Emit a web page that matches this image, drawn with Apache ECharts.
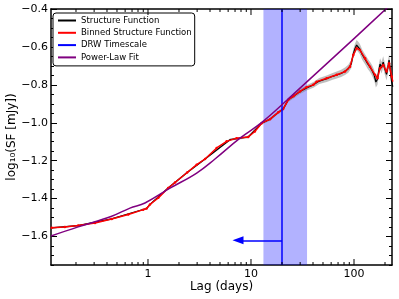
<!DOCTYPE html>
<html><head><meta charset="utf-8">
<script src="https://cdn.jsdelivr.net/npm/echarts@6/dist/echarts.min.js"></script>
<style>html,body{margin:0;padding:0;background:#fff}#c{width:399px;height:299px}</style>
</head><body><div id="c"></div>
<script>
// ---- data ----
var blackLag = [0.116,0.21,0.444,0.97,1.045,1.57,2.4,3.58,6.25,9.4,12.7,15.3,18.4,20.5,23,25.8,29.9,35,40.3,46,54.3,62,68,75,81.8,88,94,98.5,102,106,110,114,120,128,136,143,150,157,163,169,174,179,185,192,199,207,213,219,225,232,238];
var blackVal = [-1.554,-1.542,-1.507,-1.452,-1.431,-1.344,-1.262,-1.191,-1.089,-1.075,-1.002,-0.981,-0.945,-0.928,-0.879,-0.86,-0.835,-0.815,-0.80,-0.78,-0.768,-0.755,-0.748,-0.74,-0.728,-0.715,-0.69,-0.635,-0.61,-0.59,-0.6,-0.612,-0.64,-0.665,-0.69,-0.705,-0.725,-0.748,-0.785,-0.77,-0.725,-0.69,-0.71,-0.68,-0.715,-0.745,-0.71,-0.67,-0.72,-0.785,-0.81];
var bandHalf = [0.004,0.004,0.004,0.004,0.004,0.005,0.005,0.005,0.006,0.006,0.007,0.008,0.009,0.01,0.011,0.012,0.013,0.014,0.015,0.016,0.017,0.018,0.018,0.019,0.02,0.021,0.022,0.024,0.026,0.027,0.027,0.027,0.027,0.027,0.027,0.027,0.028,0.028,0.029,0.03,0.03,0.03,0.03,0.031,0.031,0.032,0.032,0.033,0.034,0.035,0.035];
var redLag = [0.116,0.156,0.21,0.306,0.444,0.644,0.9,0.97,1.045,1.26,1.57,1.83,2.4,2.97,3.58,4.64,5.8,7.25,9.4,10.9,12.7,15.3,18.4,20.5,23,25.8,29.9,34.6,40.3,43.4,54.3,68,81.8,91.5,98.5,106,114,128,143,160,169,179,192,207,219,232,238];
var redVal = [-1.554,-1.549,-1.542,-1.528,-1.507,-1.484,-1.458,-1.452,-1.431,-1.396,-1.344,-1.315,-1.262,-1.221,-1.191,-1.133,-1.098,-1.081,-1.075,-1.046,-1.002,-0.981,-0.945,-0.928,-0.879,-0.86,-0.835,-0.812,-0.80,-0.783,-0.765,-0.747,-0.73,-0.704,-0.642,-0.607,-0.616,-0.66,-0.704,-0.747,-0.765,-0.712,-0.695,-0.73,-0.686,-0.756,-0.783];
var fitLag = [0.1144,0.21,0.444,0.668,0.935,1.635,2.97,4.47,7.82,13.1,29.9,100,233.8];
var fitVal = [-1.597,-1.549,-1.493,-1.45,-1.423,-1.345,-1.265,-1.191,-1.081,-0.993,-0.817,-0.556,-0.37];
var drwTau = 20, drwLo = 13.2, drwHi = 35;
var arrowY = -1.62, arrowEnd = 7.48;
var xMajor = [1,10,100];
var xMinor = [0.2,0.3,0.4,0.5,0.6,0.7,0.8,0.9,2,3,4,5,6,7,8,9,20,30,40,50,60,70,80,90,200];
var yMajor = [-1.6,-1.4,-1.2,-1.0,-0.8,-0.6,-0.4];
var yMinor = [-1.75,-1.7,-1.65,-1.55,-1.5,-1.45,-1.35,-1.3,-1.25,-1.15,-1.1,-1.05,-0.95,-0.9,-0.85,-0.75,-0.7,-0.65,-0.55,-0.5,-0.45];
var xMin = 0.1144, xMax = 233.8, yMin = -1.75, yMax = -0.4;

// ---- build ----
function zip(a,b){return a.map(function(v,i){return [v,b[i]];});}
var F = 'DejaVu Sans';
function xa(pos, labels){
  return {type:'log', min:xMin, max:xMax, position:pos, logBase:10,
    axisLine:{show:true, lineStyle:{color:'#000', width:1.5}},
    axisTick:{show:false},
    axisLabel:{show:labels, customValues:xMajor, color:'#000', fontFamily:F, fontSize:11, margin:4},
    splitLine:{show:false}, minorTick:{show:false},
    name: labels ? 'Lag (days)' : '', nameLocation:'middle', nameGap:16, nameMoveOverlap:false,
    nameTextStyle:{color:'#000', fontFamily:F, fontSize:12}};
}
function ya(pos, vals, len, labels, line){
  return {type:'value', min:yMin, max:yMax, position:pos,
    axisLine:{show:line, lineStyle:{color:'#000', width:1.5}},
    axisTick:{show:true, inside:true, length:len, customValues:vals, lineStyle:{color:'#000', width:1}},
    axisLabel:{show:labels, customValues:vals, color:'#000', fontFamily:F, fontSize:11, margin:3,
      formatter:function(v){return v.toFixed(1).replace('-','\u2212');}},
    splitLine:{show:false},
    name: labels ? 'log\u2081\u2080(SF [mJy])' : '', nameLocation:'middle', nameGap:33, nameRotate:90,
    nameMoveOverlap:false,
    nameTextStyle:{color:'#000', fontFamily:F, fontSize:12}};
}
var tickData = xMajor.map(function(v){return [v, yMin, 6];}).concat(xMinor.map(function(v){return [v, yMin, 3];}));
var chart = echarts.init(document.getElementById('c'), null, {renderer:'canvas'});
chart.setOption({
  animation:false,
  backgroundColor:'#fff',
  grid:{left:51, right:7, top:9, bottom:34, containLabel:false, outerBoundsMode:'none'},
  xAxis:[xa('bottom', true), xa('top', false)],
  yAxis:[ya('left', yMajor, 6, true, true), ya('left', yMinor, 3, false, false),
         ya('right', yMajor, 6, false, true), ya('right', yMinor, 3, false, false)],
  legend:{
    orient:'vertical', left:53, top:13, itemWidth:18, itemHeight:2, itemGap:2.3,
    padding:[2.5,3,3.5,5], borderColor:'#000', borderWidth:1, borderRadius:3, backgroundColor:'#fff',
    textStyle:{color:'#000', fontFamily:F, fontSize:8.5, lineHeight:10},
    data:[{name:'Structure Function', icon:'rect'},{name:'Binned Structure Function', icon:'rect'},
          {name:'DRW Timescale', icon:'rect'},{name:'Power-Law Fit', icon:'rect'}]
  },
  series:[
    {type:'custom', name:'xticks', data:tickData, silent:true, clip:false, z:10,
      encode:{x:0, y:1},
      renderItem:function(params, api){
        var v = api.value(0), len = api.value(2);
        var b = api.coord([v, yMin]), t = api.coord([v, yMax]);
        return {type:'group', children:[
          {type:'line', shape:{x1:b[0], y1:b[1], x2:b[0], y2:b[1]-len}, style:{stroke:'#000', lineWidth:1}},
          {type:'line', shape:{x1:t[0], y1:t[1], x2:t[0], y2:t[1]+len}, style:{stroke:'#000', lineWidth:1}}
        ]};
      }},
    {type:'line', name:'DRW Timescale', data:[], color:'#0000ff', xAxisIndex:0, yAxisIndex:0, z:1,
      markArea:{silent:true, itemStyle:{color:'rgba(0,0,255,0.3)'}, data:[[{xAxis:drwLo},{xAxis:drwHi}]]},
      markLine:{silent:true, symbol:['none','none'], label:{show:false}, lineStyle:{color:'#0000ff', width:1.5, type:'solid'},
        data:[{xAxis:drwTau},
          [{coord:[drwTau, arrowY], symbol:'none'},{coord:[arrowEnd, arrowY], symbol:'triangle', symbolSize:[8,11]}]]}},
    {type:'custom', name:'band', data:zip(blackLag, blackVal), silent:true, clip:true, z:2,
      encode:{x:0, y:1},
      renderItem:function(params, api){
        if (params.dataIndex !== 0) return null;
        var pts = [], i;
        for (i = 0; i < blackLag.length; i++) pts.push(api.coord([blackLag[i], blackVal[i] + bandHalf[i]]));
        for (i = blackLag.length - 1; i >= 0; i--) pts.push(api.coord([blackLag[i], blackVal[i] - bandHalf[i]]));
        return {type:'polygon', shape:{points:pts}, style:{fill:'rgba(128,128,128,0.5)'}};
      }},
    {type:'line', name:'Structure Function', data:zip(blackLag, blackVal), color:'#000', symbol:'none',
      lineStyle:{color:'#000', width:1.2}, z:3},
    {type:'line', name:'Binned Structure Function', data:zip(redLag, redVal), color:'#ff0000',
      symbol:'circle', symbolSize:2.5, itemStyle:{color:'#ff0000'}, lineStyle:{color:'#ff0000', width:1.5}, z:4},
    {type:'line', name:'Power-Law Fit', data:zip(fitLag, fitVal), color:'#800080', symbol:'none', smooth:0.4,
      lineStyle:{color:'#800080', width:1.5}, z:5}
  ]
});
</script></body></html>
